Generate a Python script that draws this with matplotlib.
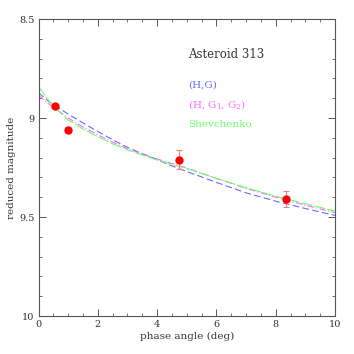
import matplotlib
matplotlib.use("Agg")
import matplotlib.pyplot as plt
from matplotlib.ticker import MultipleLocator

# Observations
obs_phase = [0.57, 0.98, 4.74, 8.36]
obs_mag = [8.940, 9.060, 9.210, 9.410]
obs_err = [0.008, 0.015, 0.050, 0.040]

# Fitted curves
curve_phase = [0.0, 0.25, 0.5, 1.0, 1.5, 2.0, 2.5, 3.0, 3.5, 4.0, 4.5, 5.0, 6.0, 7.0, 8.0, 9.0, 10.0]
hg_mag = [8.872, 8.905, 8.932, 8.980, 9.025, 9.068, 9.110, 9.148, 9.180, 9.210, 9.242, 9.270, 9.325, 9.378, 9.420, 9.457, 9.492]
hg1g2_mag = [8.885, 8.918, 8.945, 9.000, 9.045, 9.085, 9.122, 9.155, 9.182, 9.207, 9.230, 9.252, 9.305, 9.355, 9.400, 9.440, 9.478]
shev_mag = [8.840, 8.895, 8.940, 9.010, 9.055, 9.095, 9.130, 9.160, 9.187, 9.212, 9.234, 9.255, 9.305, 9.352, 9.395, 9.433, 9.470]

x_ticks = [0, 2, 4, 6, 8, 10]
y_ticks = [8.5, 9.0, 9.5, 10.0]
y_tick_labels = ["8.5", "9", "9.5", "10"]

title_text = "Asteroid 313"
labels = ["(H,G)", "(H, G$_1$, G$_2$)", "Shevchenko"]

plt.rcParams['font.family'] = ['DejaVu Serif']
plt.rcParams['mathtext.fontset'] = 'dejavuserif'

fig = plt.figure(figsize=(3.54, 3.54), dpi=100)
ax = fig.add_axes([0.1088, 0.1073, 0.8375, 0.839])

c_blue = '#6a6aff'
c_mag = '#ff6aff'
c_green = '#6aff6a'

ax.plot(curve_phase, hg_mag, color=c_blue, lw=0.8, ls=(0, (6, 3)))
ax.plot(curve_phase, hg1g2_mag, color=c_mag, lw=0.8, ls=(0, (6, 2, 1, 2)))
ax.plot(curve_phase, shev_mag, color=c_green, lw=0.8, ls=(0, (10, 2)))

ax.errorbar(obs_phase, obs_mag, yerr=obs_err, fmt='none', ecolor='#f08080',
            elinewidth=0.8, capsize=2.5, capthick=0.8, zorder=3)
ax.plot(obs_phase, obs_mag, 'o', color='#ff0000', ms=5, mec='#ff0000', zorder=4)

ax.set_xlim(0, 10)
ax.set_ylim(10, 8.5)
ax.set_xticks(x_ticks)
ax.set_yticks(y_ticks)
ax.set_yticklabels(y_tick_labels)
ax.xaxis.set_minor_locator(MultipleLocator(0.5))
ax.yaxis.set_minor_locator(MultipleLocator(0.1))
ax.tick_params(which='both', direction='in', top=True, right=True,
               color='#555555', labelsize=7, labelcolor='#333333', pad=3)
ax.tick_params(which='major', length=5, width=0.7)
ax.tick_params(which='minor', length=2.5, width=0.6)
for s in ax.spines.values():
    s.set_color('#555555')
    s.set_linewidth(0.8)

ax.set_xlabel("phase angle (deg)", fontsize=7.5, color='#333333', labelpad=2)
ax.set_ylabel("reduced magnitude", fontsize=7.5, color='#333333', labelpad=2)

ax.text(5.04, 8.68, title_text, fontsize=8.5, color='#333333', va='center', ha='left')
ax.text(5.04, 8.833, labels[0], fontsize=7.5, color=c_blue, va='center', ha='left')
ax.text(5.04, 8.93, labels[1], fontsize=7.5, color=c_mag, va='center', ha='left')
ax.text(5.04, 9.035, labels[2], fontsize=7.5, color=c_green, va='center', ha='left')

fig.savefig("out.png", dpi=100)
